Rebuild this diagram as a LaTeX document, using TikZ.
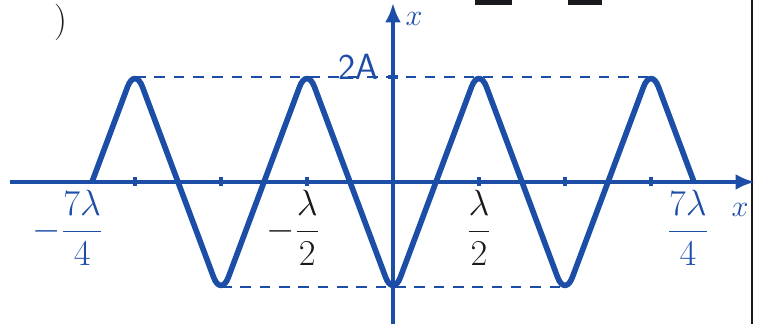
\documentclass[tikz,border=0pt]{standalone}
\usepackage{amsmath}
\usepackage{tikz}
\usetikzlibrary{arrows.meta,positioning}
\definecolor{InkBlue}{RGB}{28,78,168}
\definecolor{InkBlack}{RGB}{25,25,30}
\tikzset{
  axis/.style={-{Latex[length=11pt,width=9pt]},line width=2.2pt,InkBlue},
  wave/.style={line width=3.2pt,InkBlue,rounded corners=12pt,line join=round},
  level/.style={line width=1.6pt,InkBlue,dash pattern=on 6pt off 5pt},
  tick/.style={line width=2pt,InkBlue},
  bluelab/.style={InkBlue,font=\huge},
  blacklab/.style={InkBlack,font=\huge}
}

\begin{document}
\begin{tikzpicture}
  \useasboundingbox (-7.86,-2.84) rectangle (7.54,3.64);
  % page border and cut-off marks
  \draw[InkBlack,line width=1.1pt] (7.18,-2.84) -- (7.18,3.64);
  \node[InkBlack,font=\huge] (paren) at (-6.64,3.2) {)};
  \draw[InkBlack,line width=3pt] (1.64,3.6) -- (2.38,3.6);
  \draw[InkBlack,line width=3pt] (3.5,3.6) -- (4.18,3.6);
  % axes
  \coordinate (xs) at (-7.66,0);
  \coordinate (xe) at (7.24,0);
  \coordinate (ys) at (0,-2.84);
  \coordinate (ye) at (0,3.58);
  \draw[axis] (xs) -- (xe);
  \draw[axis] (ys) -- (ye);
  \node[InkBlue,font=\LARGE] (xlab) at (6.94,-0.56) {$x$};
  \node[InkBlue,font=\LARGE] (ylab) at (0.42,3.26) {$x$};
  % ticks every lambda/2
  \foreach \i in {-3,-2,-1,1,2,3}{
    \draw[tick] (\i*1.72,-0.08) -- (\i*1.72,0.1);
  }
  \draw[tick] (-0.1,2.1) -- (0.1,2.1);
  % levels 2A
  \coordinate (top1) at (-5.16,2.1);
  \coordinate (top4) at (5.16,2.1);
  \coordinate (bot1) at (-3.44,-2.1);
  \coordinate (bot3) at (3.44,-2.1);
  \draw[level] (top1) -- (top4);
  \draw[level] (bot1) -- (bot3);
  \node[InkBlue,font=\huge\sffamily] (amp) at (-0.7,2.3) {2A};
  % wave
  \draw[wave] (-6.02,0) -- (-5.16,2.3) -- (-3.44,-2.3) -- (-1.72,2.3)
    -- (0,-2.3) -- (1.72,2.3) -- (3.44,-2.3) -- (5.16,2.3) -- (6.02,0);
  % labels
  \node[bluelab] (lm7) at (-6.5,-0.92) {$-\dfrac{7\lambda}{4}$};
  \node[blacklab] (lm1) at (-2.0,-0.92) {$-\dfrac{\lambda}{2}$};
  \node[blacklab] (lp1) at (1.72,-0.92) {$\dfrac{\lambda}{2}$};
  \node[bluelab] (lp7) at (5.9,-0.92) {$\dfrac{7\lambda}{4}$};
\end{tikzpicture}
\end{document}
